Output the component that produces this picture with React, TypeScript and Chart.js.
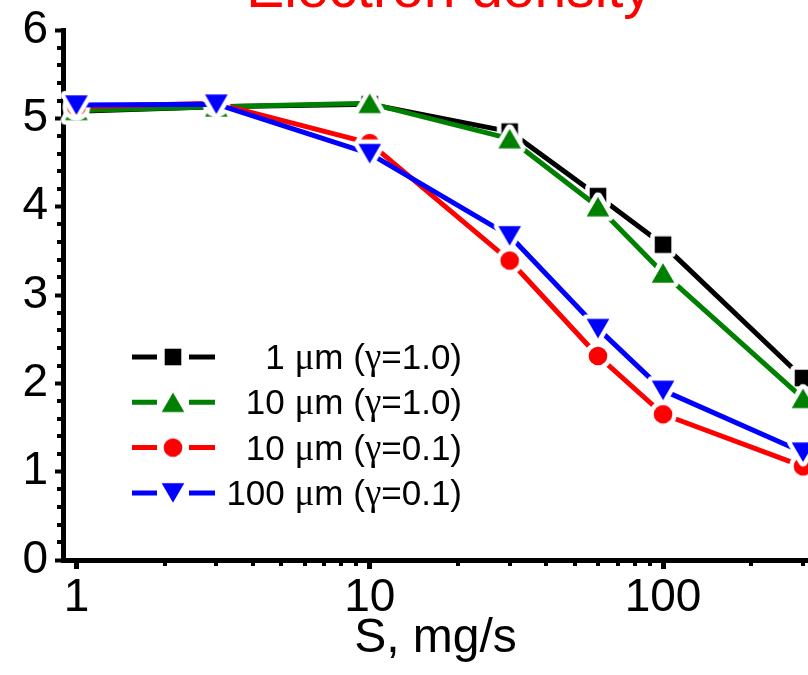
import React, { useEffect, useRef } from 'react';
import { Chart, registerables } from 'chart.js';

Chart.register(...registerables);

// ---- data ----
const xValues = [1, 3, 10, 30, 60, 100, 300];
const black1um = [5.08, 5.13, 5.16, 4.85, 4.12, 3.57, 2.06];
const green10um = [5.09, 5.13, 5.17, 4.77, 4.0, 3.25, 1.83];
const red10um = [5.13, 5.17, 4.72, 3.39, 2.31, 1.65, 1.06];
const blue100um = [5.15, 5.16, 4.6, 3.67, 2.62, 1.92, 1.22];
const seriesLabels = ['1 μm (γ=1.0)', '10 μm (γ=1.0)', '10 μm (γ=0.1)', '100 μm (γ=0.1)'];
const xMajorTicks = [1, 10, 100];
const xMinorTicks = [2, 3, 4, 5, 6, 7, 8, 9, 20, 30, 40, 50, 60, 70, 80, 90, 200, 300];
const yMajorTicks = [0, 1, 2, 3, 4, 5, 6];
const yMinorTicks = [0.2, 0.4, 0.6, 0.8, 1.2, 1.4, 1.6, 1.8, 2.2, 2.4, 2.6, 2.8, 3.2, 3.4, 3.6, 3.8, 4.2, 4.4, 4.6, 4.8, 5.2, 5.4, 5.6, 5.8];
const chartTitle = 'Electron density';
const xAxisTitle = 'S, mg/s';

const FONT = "'Liberation Sans', Arial, sans-serif";
const GREEK_FONT = "'Liberation Serif', 'DejaVu Serif', serif";

type Shape = 'square' | 'up' | 'circle' | 'down';
const seriesColors = ['#000000', '#008000', '#ff0000', '#0000ff'];
const seriesShapes: Shape[] = ['square', 'up', 'circle', 'down'];
const seriesValues = [black1um, green10um, red10um, blue100um];

function shapePath(ctx: CanvasRenderingContext2D, shape: Shape, c: number) {
  ctx.beginPath();
  if (shape === 'square') {
    const h = 8.3;
    ctx.rect(c - h, c - h, 2 * h, 2 * h);
  } else if (shape === 'circle') {
    ctx.arc(c, c, 9.3, 0, Math.PI * 2);
  } else if (shape === 'up') {
    ctx.moveTo(c, c - 9.8);
    ctx.lineTo(c + 11.3, c + 9.8);
    ctx.lineTo(c - 11.3, c + 9.8);
    ctx.closePath();
  } else {
    ctx.moveTo(c, c + 9.8);
    ctx.lineTo(c + 11.3, c - 9.8);
    ctx.lineTo(c - 11.3, c - 9.8);
    ctx.closePath();
  }
}

function makeMarker(shape: Shape, color: string): HTMLCanvasElement {
  const size = 40;
  const c = size / 2;
  const cv = document.createElement('canvas');
  cv.width = size;
  cv.height = size;
  const ctx = cv.getContext('2d')!;
  shapePath(ctx, shape, c);
  ctx.fillStyle = '#ffffff';
  ctx.strokeStyle = '#ffffff';
  ctx.lineJoin = 'round';
  ctx.lineWidth = 9;
  ctx.fill();
  ctx.stroke();
  shapePath(ctx, shape, c);
  ctx.fillStyle = color;
  ctx.fill();
  return cv;
}

function drawRichRight(ctx: CanvasRenderingContext2D, text: string, xRight: number, y: number, size: number) {
  const runs: { t: string; greek: boolean }[] = [];
  for (const ch of text) {
    const greek = /[\u0370-\u03FF]/.test(ch);
    const last = runs[runs.length - 1];
    if (last && last.greek === greek) last.t += ch;
    else runs.push({ t: ch, greek });
  }
  const fontFor = (g: boolean) => (g ? `${size + 2}px ${GREEK_FONT}` : `${size}px ${FONT}`);
  let total = 0;
  for (const r of runs) {
    ctx.font = fontFor(r.greek);
    total += ctx.measureText(r.t).width;
  }
  let x = xRight - total;
  ctx.textAlign = 'left';
  ctx.textBaseline = 'alphabetic';
  for (const r of runs) {
    ctx.font = fontFor(r.greek);
    ctx.fillText(r.t, x, y);
    x += ctx.measureText(r.t).width;
  }
}

const decorPlugin = {
  id: 'decor',
  afterDraw(chart: any) {
    const ctx = chart.ctx as CanvasRenderingContext2D;
    const area = chart.chartArea;
    const xs = chart.scales.x;
    const ys = chart.scales.y;
    ctx.save();
    ctx.fillStyle = '#000';
    for (const v of yMinorTicks) {
      const py = Math.round(ys.getPixelForValue(v));
      ctx.fillRect(area.left - 6, py - 2, 6, 4);
    }
    for (const v of xMinorTicks) {
      const px = Math.round(xs.getPixelForValue(v));
      if (px > area.right) continue;
      ctx.fillRect(px - 2, area.bottom, 4, 6);
    }
    // title
    ctx.fillStyle = '#ff0000';
    ctx.font = `57px ${FONT}`;
    ctx.textAlign = 'center';
    ctx.textBaseline = 'alphabetic';
    ctx.fillText(chartTitle, 449, 7);
    // legend
    const rowY0 = 357;
    const rowGap = 45.3;
    chart.data.datasets.forEach((ds: any, i: number) => {
      const cy = rowY0 + i * rowGap;
      ctx.strokeStyle = seriesColors[i];
      ctx.lineWidth = 5;
      ctx.lineCap = 'butt';
      ctx.beginPath();
      ctx.moveTo(132, cy);
      ctx.lineTo(157, cy);
      ctx.moveTo(189, cy);
      ctx.lineTo(215, cy);
      ctx.stroke();
      const img = ds.pointStyle as HTMLCanvasElement;
      ctx.drawImage(img, 173 - img.width / 2, cy - img.height / 2);
      ctx.fillStyle = '#000';
      drawRichRight(ctx, ds.label, 462, cy + 12, 35);
    });
    ctx.restore();
  },
};

export default function App() {
  const ref = useRef<HTMLCanvasElement>(null);
  useEffect(() => {
    const canvas = ref.current!;
    const datasets = seriesValues.map((vals, i) => ({
      label: seriesLabels[i],
      data: xValues.map((x, j) => ({ x, y: vals[j] })),
      borderColor: seriesColors[i],
      backgroundColor: seriesColors[i],
      borderWidth: 5,
      borderJoinStyle: 'round' as const,
      pointStyle: makeMarker(seriesShapes[i], seriesColors[i]),
      pointRadius: 12,
      pointBorderWidth: 0,
      tension: 0,
      clip: false as const,
      order: seriesValues.length - i,
    }));
    const chart = new Chart(canvas, {
      type: 'line',
      data: { datasets },
      plugins: [decorPlugin],
      options: {
        responsive: false,
        animation: false,
        devicePixelRatio: 1,
        layout: { autoPadding: false, padding: { top: 24, right: 0, left: 0, bottom: 0 } },
        plugins: { legend: { display: false }, tooltip: { enabled: false }, title: { display: false } },
        scales: {
          x: {
            type: 'logarithmic',
            min: 0.9,
            max: 312,
            position: 'bottom',
            z: 1,
            border: { display: true, color: '#000', width: 5 },
            grid: { display: true, drawOnChartArea: false, drawTicks: true, tickLength: 9, tickWidth: 5, tickColor: '#000', color: '#000' },
            afterBuildTicks: (scale: any) => {
              scale.ticks = xMajorTicks.map((v) => ({ value: v }));
            },
            afterFit: (scale: any) => {
              scale.height = 115;
            },
            ticks: {
              autoSkip: false,
              maxRotation: 0,
              color: '#000',
              padding: 2,
              font: { family: FONT, size: 46, lineHeight: 1.2 },
              callback: (v: any) => String(v),
            },
            title: {
              display: true,
              text: xAxisTitle,
              color: '#000',
              font: { family: FONT, size: 48, lineHeight: 1.2 },
              padding: { top: 0, bottom: 7 },
            },
          },
          y: {
            type: 'linear',
            min: 0,
            max: 6,
            position: 'left',
            z: 1,
            border: { display: true, color: '#000', width: 5 },
            grid: { display: true, drawOnChartArea: false, drawTicks: true, tickLength: 8, tickWidth: 4, tickColor: '#000', color: '#000' },
            afterBuildTicks: (scale: any) => {
              scale.ticks = yMajorTicks.map((v) => ({ value: v }));
            },
            afterFit: (scale: any) => {
              scale.width = 63;
            },
            ticks: {
              color: '#000',
              padding: 7,
              font: { family: FONT, size: 46, lineHeight: 1 },
              callback: (v: any) => String(v),
            },
          },
        },
      },
    });
    return () => chart.destroy();
  }, []);
  return (
    <div style={{ position: 'fixed', left: 0, top: 0, width: 808, height: 675, background: '#fff' }}>
      <canvas ref={ref} width={808} height={675} />
    </div>
  );
}
